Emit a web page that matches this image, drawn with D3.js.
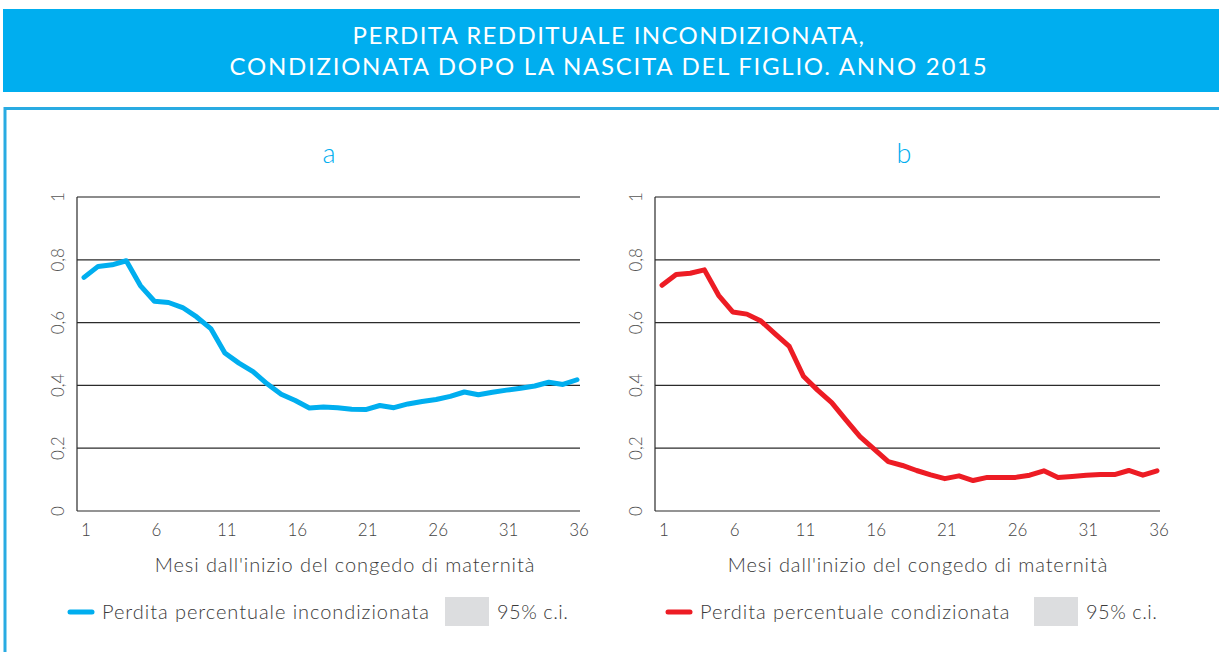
<!DOCTYPE html>
<html>
<head>
<meta charset="utf-8">
<script src="https://cdn.jsdelivr.net/npm/d3@7"></script>
<style>
    body { margin: 0; background: #ffffff; }
    svg { display: block; font-family: Lato, "Open Sans", sans-serif; }
</style>
</head>
<body>
<svg id="chart" width="1219" height="652"></svg>
<script>
// mesi dall'inizio del congedo
let months = d3.range(1, 37);

let loss_unconditional = [0.744, 0.779, 0.784, 0.797, 0.718, 0.668, 0.664, 0.648, 0.618, 0.581,
    0.503, 0.471, 0.444, 0.405, 0.372, 0.352, 0.328, 0.331, 0.329, 0.324,
    0.323, 0.336, 0.329, 0.341, 0.349, 0.355, 0.365, 0.379, 0.370, 0.378,
    0.385, 0.391, 0.398, 0.410, 0.403, 0.418];

let loss_conditional = [0.719, 0.753, 0.757, 0.768, 0.687, 0.634, 0.627, 0.605, 0.564, 0.524,
    0.429, 0.385, 0.345, 0.290, 0.237, 0.197, 0.157, 0.145, 0.129, 0.115,
    0.103, 0.112, 0.097, 0.107, 0.107, 0.107, 0.114, 0.128, 0.107, 0.110,
    0.114, 0.116, 0.116, 0.129, 0.114, 0.128];

let x_ticks = [1, 6, 11, 16, 21, 26, 31, 36];
let y_ticks = [0, 0.2, 0.4, 0.6, 0.8, 1];
let y_tick_labels = ['0', '0,2', '0,4', '0,6', '0,8', '1'];

let title_lines = ['PERDITA REDDITUALE INCONDIZIONATA,', 'CONDIZIONATA DOPO LA NASCITA DEL FIGLIO. ANNO 2015'];
let x_axis_title = "Mesi dall'inizio del congedo di maternità";

let panels = [
    {letter: 'a', values: loss_unconditional, color: '#00aeef', legend: 'Perdita percentuale incondizionata',
        left: 77, right: 580, letter_x: 329, title_x: 345, legend_x: 68, box_x: 445},
    {letter: 'b', values: loss_conditional, color: '#ed1c24', legend: 'Perdita percentuale condizionata',
        left: 655, right: 1160, letter_x: 904, title_x: 918, legend_x: 666, box_x: 1034}
];

let svg = d3.select('#chart');
let header_color = '#00aeef';
let text_color = '#3a3a3a';

// intestazione
svg.append('rect')
    .attr('x', 3).attr('y', 9)
    .attr('width', 1216).attr('height', 83)
    .style('fill', header_color);

svg.selectAll('.title-line')
    .data(title_lines)
    .enter()
    .append('text')
    .attr('class', 'title-line')
    .attr('x', 609)
    .attr('y', (d, i) => 44 + i * 31)
    .attr('text-anchor', 'middle')
    .style('font-size', '24px')
    .style('letter-spacing', (d, i) => i === 0 ? '1.4px' : '1.75px')
    .style('fill', '#ffffff')
    .text(d => d);

// cornice
svg.append('rect')
    .attr('x', 5).attr('y', 108.5)
    .attr('width', 1230).attr('height', 600)
    .style('fill', 'none')
    .style('stroke', '#29abe2')
    .style('stroke-width', 3);

let y_scale = d3.scaleLinear().domain([0, 1]).range([511, 197]);

function draw_panel(panel) {
    let g = svg.append('g');
    let x_scale = d3.scaleLinear().domain([1, 36]).range([panel.left + 7, panel.right - 3]);

    g.append('text')
        .attr('x', panel.letter_x)
        .attr('y', 163)
        .attr('text-anchor', 'middle')
        .style('font-size', '27px')
        .style('font-weight', 300)
        .style('fill', header_color)
        .text(panel.letter);

    // griglia
    g.selectAll('.grid')
        .data(y_ticks)
        .enter()
        .append('line')
        .attr('x1', panel.left).attr('x2', panel.right)
        .attr('y1', d => y_scale(d)).attr('y2', d => y_scale(d))
        .style('stroke', d => d === 1 ? '#8c8c8c' : '#2b2b2b')
        .style('stroke-width', d => d === 1 ? 2 : 1.2);

    g.append('line')
        .attr('x1', panel.left).attr('x2', panel.left)
        .attr('y1', y_scale(1)).attr('y2', y_scale(0))
        .style('stroke', '#2b2b2b')
        .style('stroke-width', 1.2);

    g.selectAll('.y-label')
        .data(y_ticks)
        .enter()
        .append('text')
        .attr('transform', d => 'translate(' + (panel.left - 13) + ',' + y_scale(d) + ') rotate(-90)')
        .attr('text-anchor', 'middle')
        .style('font-size', '17px')
        .style('font-weight', 300)
        .style('fill', '#555555')
        .text((d, i) => y_tick_labels[i]);

    g.selectAll('.x-label')
        .data(x_ticks)
        .enter()
        .append('text')
        .attr('x', d => x_scale(d) + 2)
        .attr('y', 536)
        .attr('text-anchor', 'middle')
        .style('font-size', '17px')
        .style('font-weight', 300)
        .style('fill', '#444444')
        .text(d => d);

    g.append('text')
        .attr('x', panel.title_x)
        .attr('y', 572)
        .attr('text-anchor', 'middle')
        .style('font-size', '20px')
        .style('font-weight', 300)
        .style('letter-spacing', '0.9px')
        .style('fill', text_color)
        .text(x_axis_title);

    let line = d3.line()
        .x((d, i) => x_scale(months[i]))
        .y(d => y_scale(d));

    g.append('path')
        .datum(panel.values)
        .attr('d', line)
        .style('fill', 'none')
        .style('stroke', panel.color)
        .style('stroke-width', 5)
        .style('stroke-linejoin', 'round')
        .style('stroke-linecap', 'round');

    // legenda
    g.append('line')
        .attr('x1', panel.legend_x + 2).attr('x2', panel.legend_x + 24)
        .attr('y1', 612).attr('y2', 612)
        .style('stroke', panel.color)
        .style('stroke-width', 5)
        .style('stroke-linecap', 'round');

    g.append('text')
        .attr('x', panel.legend_x + 34)
        .attr('y', 619)
        .style('font-size', '20px')
        .style('font-weight', 300)
        .style('letter-spacing', '0.95px')
        .style('fill', text_color)
        .text(panel.legend);

    g.append('rect')
        .attr('x', panel.box_x).attr('y', 597)
        .attr('width', 44).attr('height', 29)
        .style('fill', '#dcdddf');

    g.append('text')
        .attr('x', panel.box_x + 52)
        .attr('y', 619)
        .style('font-size', '20px')
        .style('font-weight', 300)
        .style('letter-spacing', '0.5px')
        .style('fill', text_color)
        .text('95% c.i.');
}

panels.forEach(draw_panel);
</script>
</body>
</html>
